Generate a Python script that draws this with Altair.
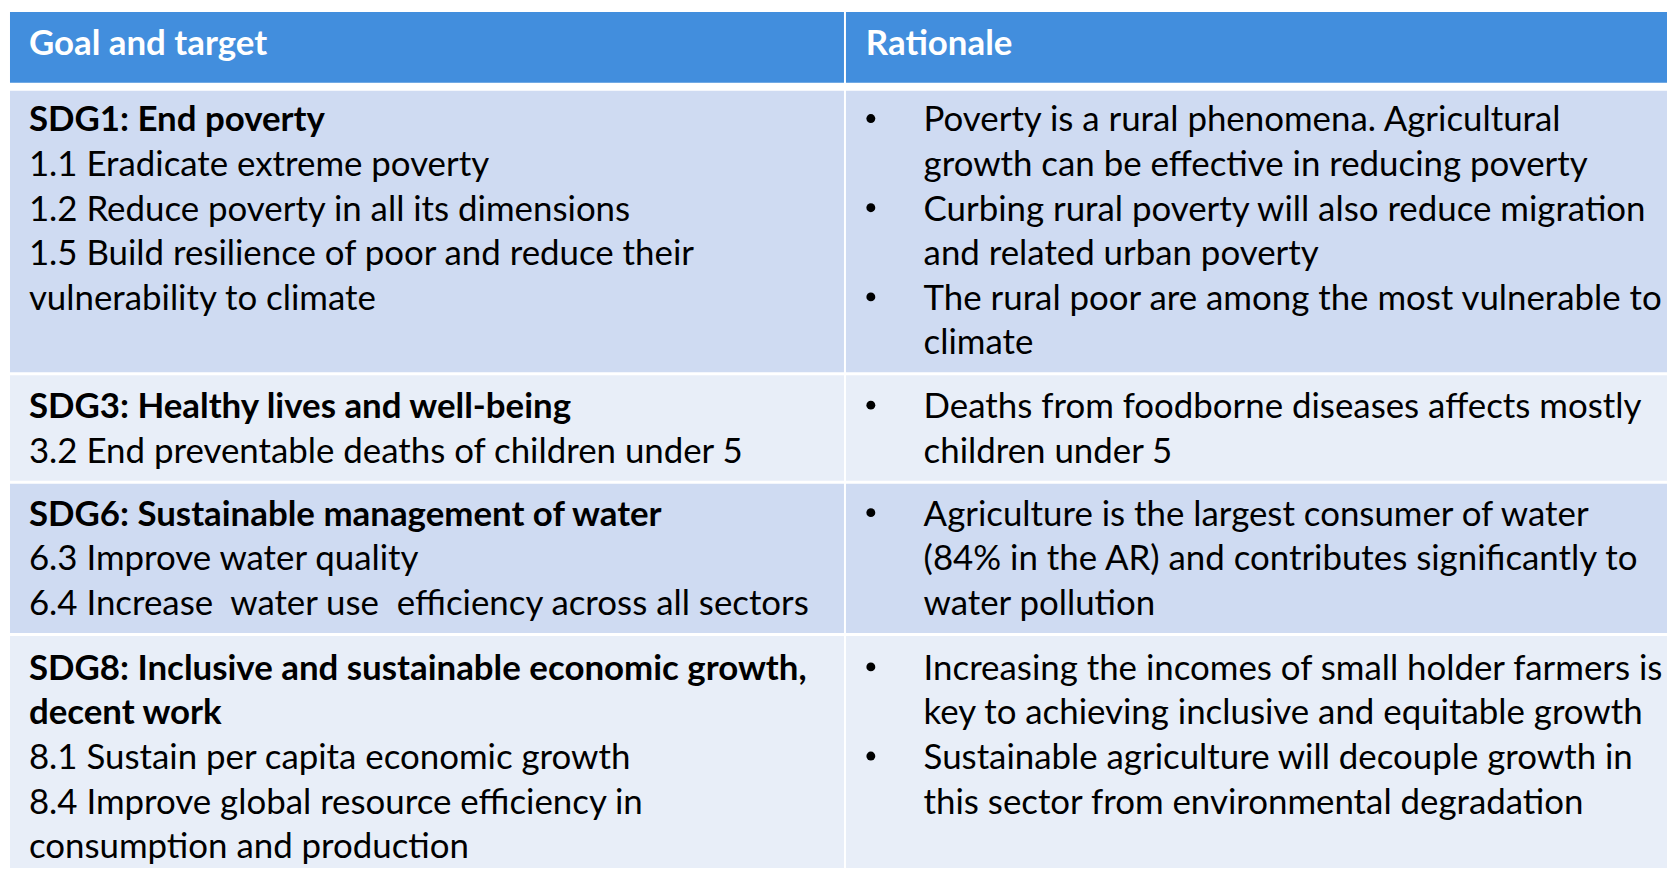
import altair as alt
import pandas as pd

# ---------------- data ----------------
HEADERS = ["Goal and target", "Rationale"]

GOALS = [
    ["SDG1: End poverty",
     "1.1 Eradicate extreme poverty",
     "1.2 Reduce poverty in all its dimensions",
     "1.5 Build resilience of poor and reduce their",
     "vulnerability to climate"],
    ["SDG3: Healthy lives and well-being",
     "3.2 End preventable deaths of children under 5"],
    ["SDG6: Sustainable management of water",
     "6.3 Improve water quality",
     "6.4 Increase\u00a0 water use\u00a0 efficiency across all sectors"],
    ["SDG8: Inclusive and sustainable economic growth,",
     "decent work",
     "8.1 Sustain per capita economic growth",
     "8.4 Improve global resource efficiency in",
     "consumption and production"],
]
GOAL_BOLD_LINES = [1, 1, 1, 2]

RATIONALE = [
    [["Poverty is a rural phenomena. Agricultural",
      "growth can be effective in reducing poverty"],
     ["Curbing rural poverty will also reduce migration",
      "and related urban poverty"],
     ["The rural poor are among the most vulnerable to",
      "climate"]],
    [["Deaths from foodborne diseases affects mostly",
      "children under 5"]],
    [["Agriculture is the largest consumer of water",
      "(84% in the AR) and contributes significantly to",
      "water pollution"]],
    [["Increasing the incomes of small holder farmers is",
      "key to achieving inclusive and equitable growth"],
     ["Sustainable agriculture will decouple growth in",
      "this sector from environmental degradation"]],
]

ROW_SHADE = ["dark", "light", "dark", "light"]

# ---------------- layout / style ----------------
W, H = 1667, 862
FONT = "Lato, sans-serif"
FS = 35
LINE = 44.8
HEADER_BLUE = "#428EDD"
SHADES = {"dark": "#CFDBF2", "light": "#E8EEF8"}

COL_X = [(10, 848), (850, 1680)]
HEADER_Y = (10, 81)
ROW_Y = [(89, 372), (375, 481), (484, 634), (637, 880)]
FIRST_BASE = [130, 418, 526, 681]
HEADER_BASE = 53
LEFT_TX = 29
RIGHT_HX = 870
BULLET_X = 875
RIGHT_TX = 928

# cells
cells = []
for c, (x0, x1) in enumerate(COL_X):
    cells.append(dict(x=x0, x2=x1, y=HEADER_Y[0], y2=HEADER_Y[1], fill=HEADER_BLUE))
    for r, (y0, y1) in enumerate(ROW_Y):
        cells.append(dict(x=x0, x2=x1, y=y0, y2=y1, fill=SHADES[ROW_SHADE[r]]))
cells_df = pd.DataFrame(cells)

header_df = pd.DataFrame([
    dict(x=LEFT_TX, y=HEADER_BASE, text=HEADERS[0]),
    dict(x=RIGHT_HX, y=HEADER_BASE, text=HEADERS[1]),
])

bold_rows, normal_rows, bullets = [], [], []
for r, lines in enumerate(GOALS):
    for i, t in enumerate(lines):
        d = dict(x=LEFT_TX, y=FIRST_BASE[r] + i * LINE, text=t)
        (bold_rows if i < GOAL_BOLD_LINES[r] else normal_rows).append(d)
for r, items in enumerate(RATIONALE):
    i = 0
    for item in items:
        bullets.append(dict(x=BULLET_X, y=FIRST_BASE[r] + i * LINE - 13))
        for t in item:
            normal_rows.append(dict(x=RIGHT_TX, y=FIRST_BASE[r] + i * LINE, text=t))
            i += 1
bold_df = pd.DataFrame(bold_rows)
normal_df = pd.DataFrame(normal_rows)
bullet_df = pd.DataFrame(bullets)

xs = alt.Scale(domain=[8, 8 + W], nice=False, zero=False)
ys = alt.Scale(domain=[8, 8 + H], nice=False, zero=False, reverse=True)
X = alt.X("x:Q", scale=xs, axis=None)
Y = alt.Y("y:Q", scale=ys, axis=None)

rects = alt.Chart(cells_df).mark_rect(clip=True).encode(
    x=X, x2="x2:Q", y=Y, y2="y2:Q", color=alt.Color("fill:N", scale=None)
)

def text_layer(df, weight, color):
    return alt.Chart(df).mark_text(
        align="left", baseline="alphabetic", font=FONT, fontSize=FS,
        fontWeight=weight, color=color
    ).encode(x=X, y=Y, text="text:N")

headers = text_layer(header_df, "bold", "white")
bolds = text_layer(bold_df, "bold", "black")
normals = text_layer(normal_df, "normal", "black")
dots = alt.Chart(bullet_df).mark_point(
    shape="circle", filled=True, size=80, color="black", opacity=1
).encode(x=X, y=Y)

chart = alt.layer(rects, headers, bolds, normals, dots).properties(
    width=W, height=H, padding=0, background="white",
    autosize=alt.AutoSizeParams(type="none")
).configure_view(stroke=None)

chart.save("out.html", embed_options={"renderer": "svg", "actions": False})
